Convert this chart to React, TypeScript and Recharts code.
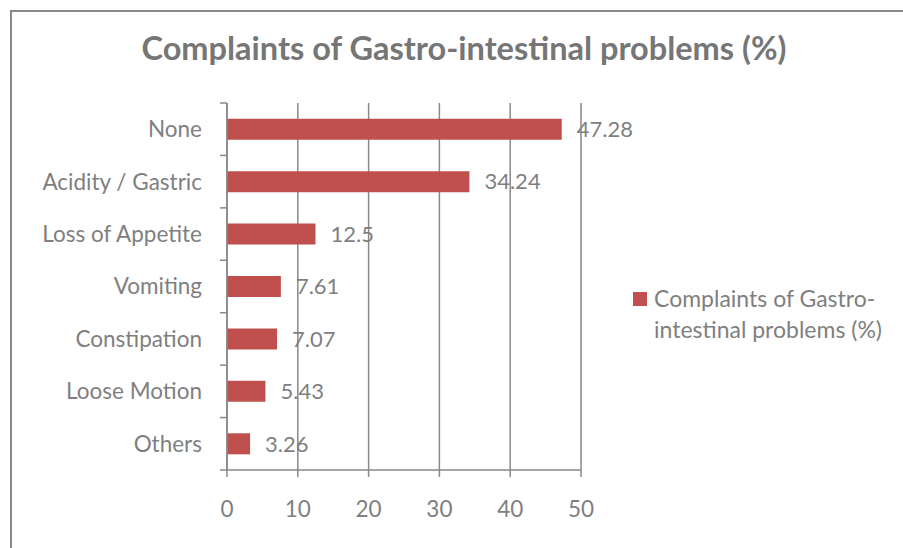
import { BarChart, Bar, XAxis, YAxis, CartesianGrid, LabelList, Legend } from "recharts";

const categories = ["None", "Acidity / Gastric", "Loss of Appetite", "Vomiting", "Constipation", "Loose Motion", "Others"];
const percents = [47.28, 34.24, 12.5, 7.61, 7.07, 5.43, 3.26];
const xTicks = [0, 10, 20, 30, 40, 50];
const seriesName = "Complaints of Gastro-intestinal problems (%)";

const data = categories.map((name, i) => ({ name, value: percents[i] }));

const FONT = "Lato, 'Open Sans', sans-serif";
const TEXT = "#7f7f7f";
const LINE = "#898989";
const BAR = "#c0504d";
const TICK_SIZE = 7;
const TICK_MARGIN = 18;

// Excel puts the category tick marks between the bands, not at their centres
function CategoryTick(props: any) {
  const { x, y, payload, index, visibleTicksCount, height } = props;
  const half = height / visibleTicksCount / 2;
  const lx1 = x + TICK_MARGIN;
  const lx2 = lx1 + TICK_SIZE;
  return (
    <g>
      <text x={x} y={y} dy="0.355em" textAnchor="end" fill={TEXT} fontSize={22.5} fontFamily={FONT}>
        {payload.value}
      </text>
      <line x1={lx1} x2={lx2} y1={y - half} y2={y - half} stroke={LINE} strokeWidth={1.5} />
      {index === visibleTicksCount - 1 && (
        <line x1={lx1} x2={lx2} y1={y + half} y2={y + half} stroke={LINE} strokeWidth={1.5} />
      )}
    </g>
  );
}

function LegendBox() {
  return (
    <div style={{ display: "flex", alignItems: "flex-start", fontFamily: FONT, fontSize: 23, color: TEXT, lineHeight: "31px" }}>
      <span style={{ width: 14, height: 14, background: BAR, marginTop: 9, marginRight: 7, flex: "none" }} />
      <span>
        Complaints of Gastro-
        <br />
        intestinal problems (%)
      </span>
    </div>
  );
}

export default function App() {
  return (
    <div style={{ position: "absolute", left: 0, top: 0, width: 903, height: 548, background: "#fff", overflow: "hidden" }}>
      <div style={{ position: "absolute", left: 10, top: 10, width: 1000, height: 1000, border: `2px solid ${LINE}` }} />
      <div
        style={{
          position: "absolute",
          left: 0,
          width: 928,
          top: 28,
          textAlign: "center",
          fontFamily: FONT,
          fontWeight: 700,
          fontSize: 32.5,
          lineHeight: 1.2,
          color: "#767676",
          whiteSpace: "nowrap",
        }}
      >
        {seriesName}
      </div>
      <div style={{ position: "absolute", left: 0, top: 0 }}>
        <BarChart
          width={903}
          height={548}
          data={data}
          layout="vertical"
          margin={{ top: 103, right: 52, bottom: 28, left: 0 }}
          barCategoryGap="30%"
        >
          <CartesianGrid horizontal={false} stroke={LINE} strokeWidth={1.5} />
          <XAxis
            type="number"
            domain={[0, 50]}
            ticks={xTicks}
            interval={0}
            height={50}
            stroke={LINE}
            strokeWidth={1.5}
            tickSize={7}
            tickMargin={24}
            tick={{ fill: TEXT, fontSize: 22.5, fontFamily: FONT }}
          />
          <YAxis
            type="category"
            dataKey="name"
            width={227}
            interval={0}
            stroke={LINE}
            strokeWidth={1.5}
            tickLine={false}
            tickSize={TICK_SIZE}
            tickMargin={TICK_MARGIN}
            tick={<CategoryTick />}
          />
          <Legend
            layout="vertical"
            align="right"
            verticalAlign="middle"
            content={() => <LegendBox />}
            wrapperStyle={{ left: 633, top: 283, width: 270 }}
          />
          <Bar dataKey="value" name={seriesName} fill={BAR} isAnimationActive={false}>
            <LabelList dataKey="value" position="right" offset={15} fill={TEXT} fontSize={22} fontFamily={FONT} />
          </Bar>
        </BarChart>
      </div>
    </div>
  );
}
